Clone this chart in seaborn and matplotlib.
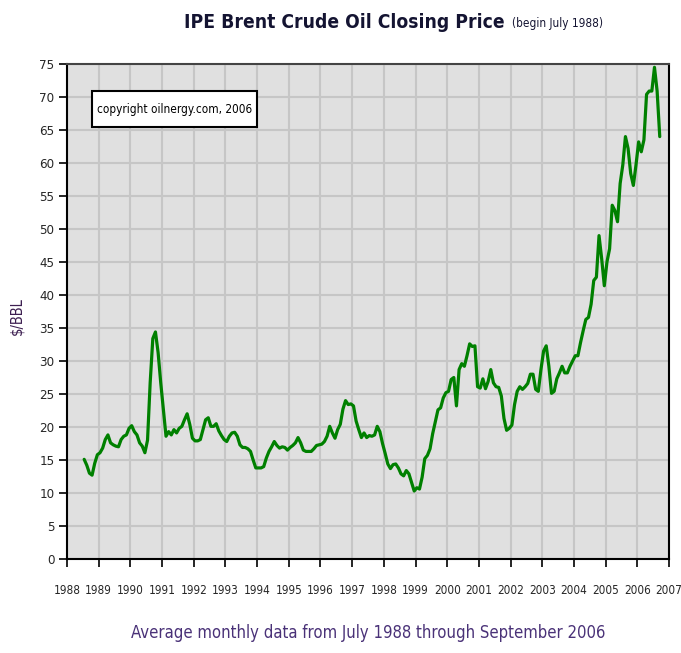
import numpy as np
import pandas as pd
import matplotlib
matplotlib.use("Agg")
import matplotlib.pyplot as plt
from matplotlib.patches import Rectangle
import seaborn as sns

# Monthly average IPE Brent closing price, $/BBL, July 1988 - September 2006
start_year = 1988
start_month = 7
p1988 = [15.1, 14.2, 13.0, 12.7, 14.5, 15.8]
p1989 = [16.1, 16.8, 18.1, 18.8, 17.6, 17.3, 17.1, 17.0, 18.1, 18.6, 18.8, 19.8]
p1990 = [20.2, 19.3, 18.8, 17.6, 17.1, 16.1, 18.0, 26.7, 33.4, 34.4, 31.3, 26.7]
p1991 = [22.7, 18.6, 19.3, 18.8, 19.6, 19.1, 19.8, 20.1, 21.1, 22.0, 20.4, 18.3]
p1992 = [17.9, 17.9, 18.1, 19.6, 21.1, 21.4, 20.1, 20.1, 20.5, 19.4, 18.7, 18.1]
p1993 = [17.8, 18.6, 19.1, 19.2, 18.6, 17.3, 16.9, 16.9, 16.7, 16.3, 15.0, 13.8]
p1994 = [13.8, 13.8, 14.0, 15.3, 16.3, 17.0, 17.8, 17.2, 16.8, 17.0, 16.9, 16.5]
p1995 = [16.9, 17.2, 17.6, 18.4, 17.6, 16.5, 16.3, 16.3, 16.3, 16.7, 17.2, 17.3]
p1996 = [17.4, 17.8, 18.6, 20.1, 19.1, 18.3, 19.6, 20.4, 22.7, 24.0, 23.4, 23.5]
p1997 = [23.2, 20.9, 19.6, 18.4, 19.1, 18.4, 18.7, 18.6, 18.8, 20.1, 19.3, 17.5]
p1998 = [16.0, 14.4, 13.7, 14.3, 14.4, 13.8, 12.9, 12.6, 13.4, 12.9, 11.6, 10.3]
p1999 = [10.8, 10.6, 12.4, 15.2, 15.7, 16.7, 19.0, 20.8, 22.6, 22.9, 24.4, 25.2]
p2000 = [25.4, 27.2, 27.5, 23.2, 28.7, 29.6, 29.2, 30.8, 32.6, 32.2, 32.3, 26.1]
p2001 = [25.9, 27.3, 25.8, 26.9, 28.7, 26.7, 26.1, 26.0, 24.7, 21.3, 19.5, 19.8]
p2002 = [20.3, 23.4, 25.4, 26.1, 25.7, 26.1, 26.6, 28.0, 28.0, 25.7, 25.4, 28.7]
p2003 = [31.5, 32.3, 29.2, 25.1, 25.4, 27.3, 28.2, 29.2, 28.2, 28.2, 29.2, 30.0]
p2004 = [30.8, 30.8, 32.8, 34.6, 36.3, 36.6, 38.6, 42.2, 42.7, 49.0, 45.5, 41.4]
p2005 = [45.0, 47.0, 53.6, 52.8, 51.1, 56.9, 59.7, 64.0, 62.2, 58.4, 56.6, 59.7]
p2006 = [63.2, 61.7, 63.5, 70.4, 70.9, 70.9, 74.5, 70.9, 64.0]

year_ticks = list(range(1988, 2008))
y_ticks = list(range(0, 80, 5))

prices = (p1988 + p1989 + p1990 + p1991 + p1992 + p1993 + p1994 + p1995 + p1996
          + p1997 + p1998 + p1999 + p2000 + p2001 + p2002 + p2003 + p2004 + p2005 + p2006)
idx = np.arange(len(prices))
t = start_year + (start_month - 1 + idx) / 12.0 + 1 / 24.0
df = pd.DataFrame({"t": t, "price": prices})

sns.set_style("whitegrid", {"axes.facecolor": "#e0e0e0", "grid.color": "#c6c6c6",
                            "axes.edgecolor": "black"})
plt.rcParams["font.family"] = ["Liberation Sans Narrow", "DejaVu Sans"]
plt.rcParams["font.stretch"] = "condensed"

fig = plt.figure(figsize=(6.81, 6.53), dpi=100)
ax = fig.add_axes([67 / 681, 1 - 559 / 653, (669 - 67) / 681, (559 - 64) / 653])

sns.lineplot(data=df, x="t", y="price", ax=ax, color="#008000", linewidth=2.3)

ax.set_xlim(1988, 2007)
ax.set_ylim(0, 75)
ax.set_xticks(year_ticks)
ax.set_xticklabels([str(y) for y in year_ticks], fontsize=8.5)
ax.set_yticks(y_ticks)
ax.set_yticklabels([str(v) for v in y_ticks], fontsize=9.5)
ax.grid(True, color="#c6c6c6", linewidth=1.5)
ax.tick_params(axis="both", direction="out", length=6, width=1.2, color="black",
               bottom=True, left=True)
ax.tick_params(axis="x", pad=12)
ax.tick_params(axis="y", pad=3)
for side in ["left", "bottom", "right"]:
    ax.spines[side].set_color("black")
    ax.spines[side].set_linewidth(1.5)
ax.spines["top"].set_color("#444444")
ax.spines["top"].set_linewidth(1.5)
ax.set_xlabel("")
ax.set_ylabel("$/BBL", fontsize=10.5, color="#3c1e50")
ax.yaxis.set_label_coords(-0.071, 0.49)

fig.text(505 / 681, 1 - 22 / 653, "IPE Brent Crude Oil Closing Price", ha="right", va="center",
         fontsize=13.8, fontweight="bold", color="#141432")
fig.text(512 / 681, 1 - 24 / 653, "(begin July 1988)", ha="left", va="center",
         fontsize=8.5, color="#141432")
fig.text(368 / 681, 1 - 633 / 653, "Average monthly data from July 1988 through September 2006",
         ha="center", va="center", fontsize=12, color="#4a3278")

ax.add_patch(Rectangle(((92 - 67) / 602, (559 - 127) / 495), 165 / 602, 36 / 495,
                       transform=ax.transAxes, facecolor="white", edgecolor="black",
                       linewidth=1.5, zorder=5))
ax.text((174.5 - 67) / 602, (559 - 109) / 495, "copyright oilnergy.com, 2006",
        transform=ax.transAxes, ha="center", va="center", fontsize=8.5, color="black", zorder=6)

fig.savefig("out.png", dpi=100, facecolor="white")
